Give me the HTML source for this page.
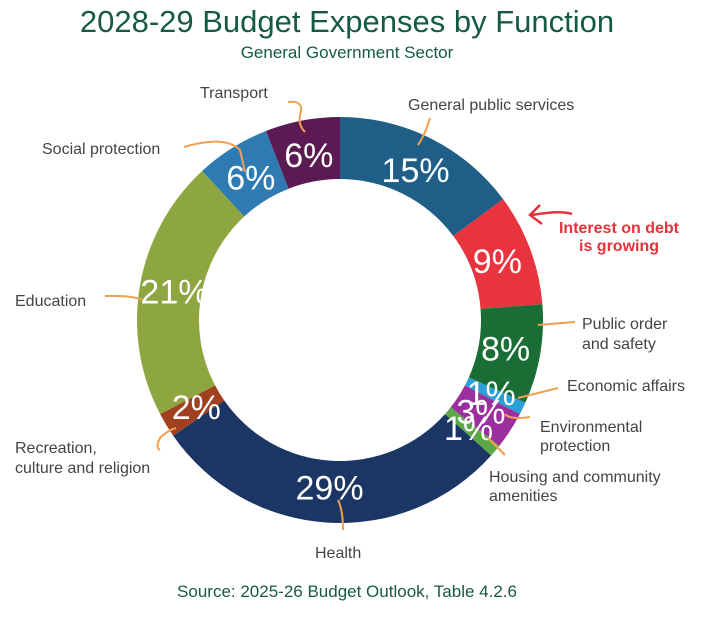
<!DOCTYPE html>
<html><head><meta charset="utf-8"><style>
html,body{margin:0;padding:0;background:#fff;}
svg{display:block;font-family:"Liberation Sans",sans-serif;}
</style></head><body>
<svg id="chart" width="714" height="624" viewBox="0 0 714 624">
<text x="347" y="32" text-anchor="middle" font-size="31" fill="#175a43">2028-29 Budget Expenses by Function</text>
<text x="347" y="58" text-anchor="middle" font-size="17" fill="#175a43">General Government Sector</text>
<g id="slices"></g>
<g id="pcts"></g>
<g fill="none" stroke="#f0a050" stroke-width="2">
<path d="M288 102 Q305 100 300 115 Q298 125 305 132"/>
<path d="M184 147 Q225 135 240 150 L245 172"/>
<path d="M430 118 Q425 135 418 145"/>
<path d="M105 296 Q130 295 143 300"/>
<path d="M176 428 Q168 430 160 438 Q155 448 160 450"/>
<path d="M338 500 Q343 510 343 530"/>
<path d="M575 322 L538 325"/>
<path d="M558 388 L518 398"/>
<path d="M530 417 Q510 420 505 414"/>
<path d="M488 438 Q495 445 505 455"/>
</g>
<path d="M572 214 Q560 210 532 215 M540 205 L530 215 L542 224" fill="none" stroke="#e5323c" stroke-width="2.5"/>
<g font-size="16" fill="#444">
<text x="200" y="98">Transport</text>
<text x="408" y="110">General public services</text>
<text x="42" y="154">Social protection</text>
<text x="15" y="306">Education</text>
<text x="15" y="453"><tspan x="15">Recreation,</tspan><tspan x="15" dy="20">culture and religion</tspan></text>
<text x="315" y="558">Health</text>
<text x="582" y="329"><tspan x="582">Public order</tspan><tspan x="582" dy="20">and safety</tspan></text>
<text x="567" y="391">Economic affairs</text>
<text x="540" y="432"><tspan x="540">Environmental</tspan><tspan x="540" dy="19">protection</tspan></text>
<text x="489" y="482"><tspan x="489">Housing and community</tspan><tspan x="489" dy="19">amenities</tspan></text>
</g>
<text x="619" y="233" text-anchor="middle" font-size="16" font-weight="bold" fill="#e5323c"><tspan x="619">Interest on debt</tspan><tspan x="619" dy="18">is growing</tspan></text>
<text x="347" y="597" text-anchor="middle" font-size="17" fill="#175a43">Source: 2025-26 Budget Outlook, Table 4.2.6</text>
</svg>
<script>
const categories = ["General public services","Interest on debt","Public order and safety","Economic affairs","Environmental protection","Housing and community amenities","Health","Recreation, culture and religion","Education","Social protection","Transport"];
const values = [15,9,8,1,3,1,29,2,21,6,6];
const pctLabels = ["15%","9%","8%","1%","3%","1%","29%","2%","21%","6%","6%"];
const colors = ["#1f5f87","#e8343f","#1a6e35","#29a0d8","#9b2f9e","#5aa846","#1b3664","#a0401e","#8ea640","#2e7bb3","#5b1a52"];
const cx=340, cy=320, R=203, r=141, labR=168;
const total = values.reduce((a,b)=>a+b,0);
function pt(rad,deg){const a=(deg-90)*Math.PI/180;return [cx+rad*Math.cos(a),cy+rad*Math.sin(a)];}
const NS="http://www.w3.org/2000/svg";
const gS=document.getElementById('slices'), gP=document.getElementById('pcts');
let acc=0;
values.forEach((v,i)=>{
  const a0=acc/total*360, a1=(acc+v)/total*360; acc+=v;
  const [x0,y0]=pt(R,a0),[x1,y1]=pt(R,a1),[x2,y2]=pt(r,a1),[x3,y3]=pt(r,a0);
  const large=(a1-a0)>180?1:0;
  const p=document.createElementNS(NS,'path');
  p.setAttribute('d',`M${x0} ${y0} A${R} ${R} 0 ${large} 1 ${x1} ${y1} L${x2} ${y2} A${r} ${r} 0 ${large} 0 ${x3} ${y3}Z`);
  p.setAttribute('fill',colors[i]);
  
  
  gS.appendChild(p);
  const [tx,ty]=pt(labR,(a0+a1)/2);
  const t=document.createElementNS(NS,'text');
  t.setAttribute('x',tx);t.setAttribute('y',ty+12);
  t.setAttribute('text-anchor','middle');t.setAttribute('font-size','34');t.setAttribute('fill','#fff');
  t.textContent=pctLabels[i];
  
  
  gP.appendChild(t);
});
</script>
</body></html>
